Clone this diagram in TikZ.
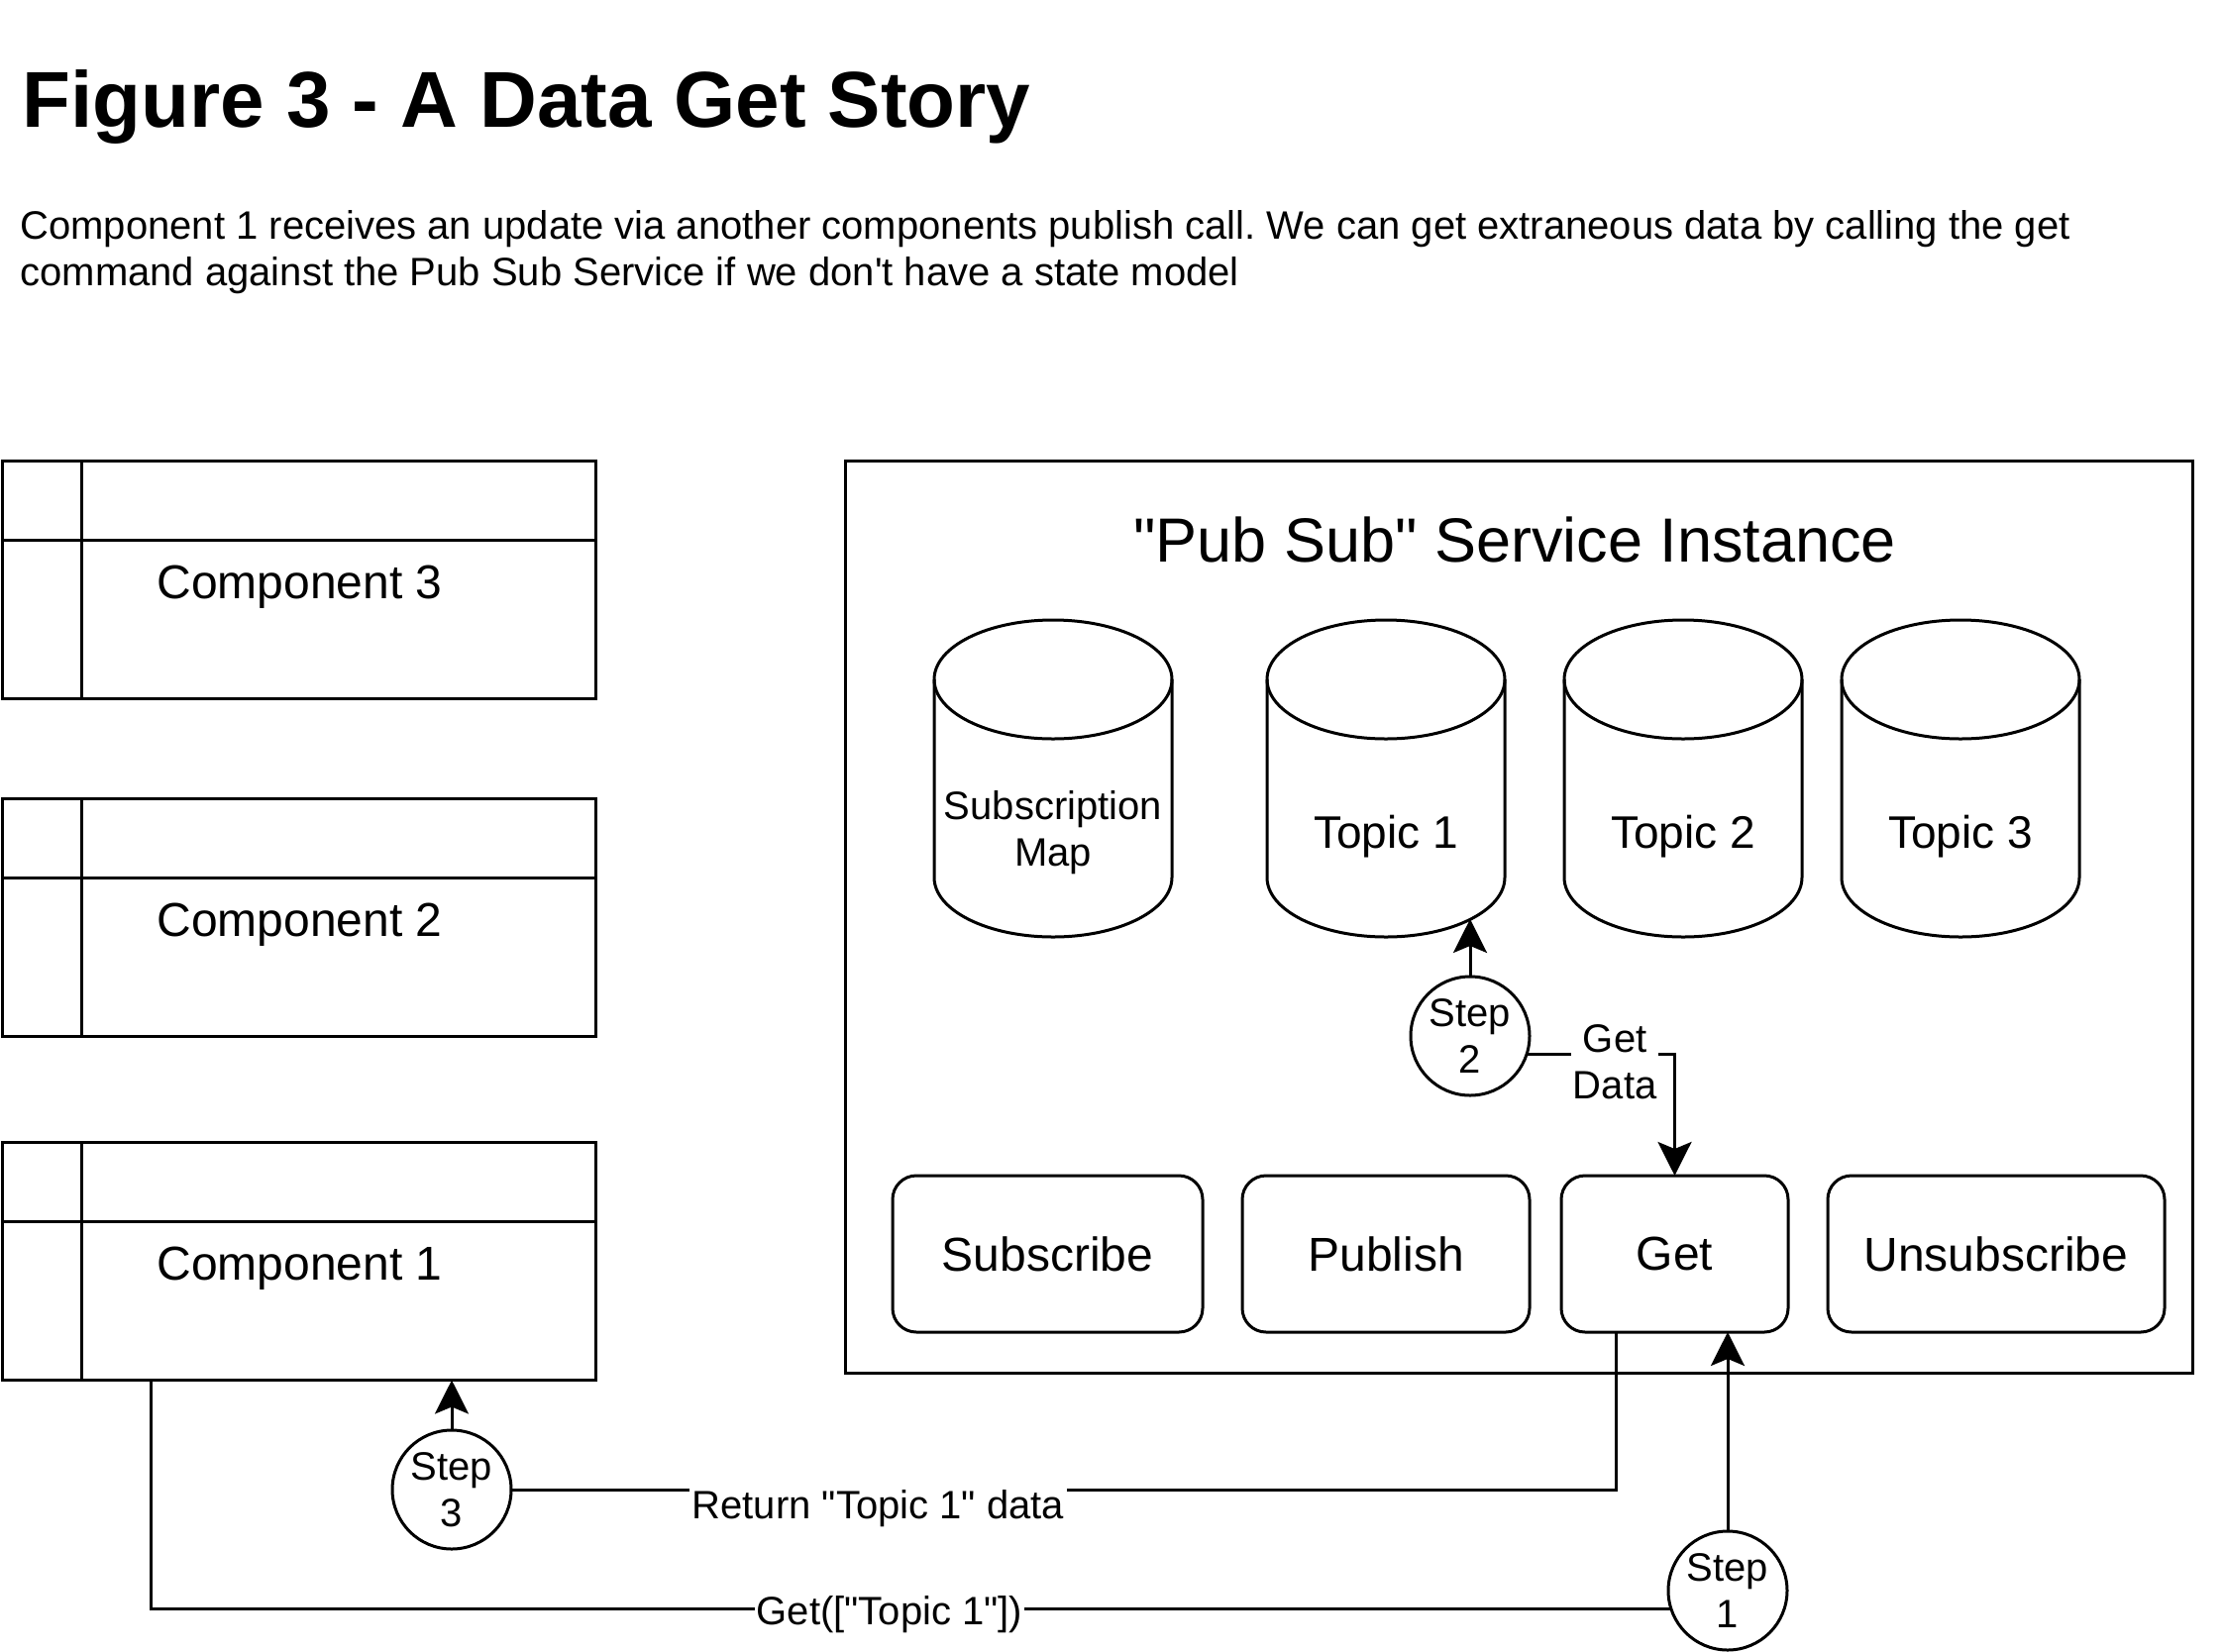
\documentclass[tikz,border=0pt]{standalone}
\usepackage{fontspec}
\setmainfont{Liberation Sans}[Ligatures=TeXOff]
\usetikzlibrary{arrows.meta}
\newcommand{\dbcyl}[1]{%
  \draw (#1-120,686) -- (#1-120,886) arc[start angle=180,end angle=0,x radius=120,y radius=60] -- (#1+120,686);
  \draw (#1,686) ellipse[x radius=120,y radius=60];}

\begin{document}
\frenchspacing
\begin{tikzpicture}[x=1pt,y=-1pt,line width=3pt,>={Stealth[length=34pt,width=34pt,inset=7pt]}]
    \tikzstyle{comp}=[draw, rectangle, minimum width=599pt, minimum height=240pt, inner sep=0pt, outer sep=0pt]
    \tikzstyle{compname}=[anchor=base west, inner sep=0pt, font=\fontsize{48}{56}\selectfont]
    \tikzstyle{service}=[draw, rectangle, minimum width=1360pt, minimum height=921pt, outer sep=0pt]
    \tikzstyle{op}=[draw, rectangle, rounded corners=24pt, minimum height=158pt, inner sep=0pt, outer sep=0pt, font=\fontsize{48}{56}\selectfont]
    \tikzstyle{store}=[inner sep=0pt, align=center]
    \tikzstyle{stepcirc}=[draw, circle, minimum size=120pt, inner sep=0pt, outer sep=0pt, fill=white, align=center, font=\fontsize{40}{47}\selectfont]
    \tikzstyle{lbl}=[fill=white, inner sep=2pt, align=center, font=\fontsize{40}{47}\selectfont]

    \useasboundingbox (0,0) rectangle (2244,1668);

    \node[anchor=base west, inner sep=0pt, font=\fontsize{80}{94}\selectfont\bfseries] (title) at (21,128) {Figure 3 - A Data Get Story};
    \node[anchor=north west, inner sep=0pt, align=left, font=\fontsize{40}{47}\selectfont] (intro) at (19,211)
      {Component 1 receives an update via another components publish call. We can get extraneous data by calling the get\\command against the Pub Sub Service if we don't have a state model};

    % components
    \node[comp] (c3) at (301.5,585) {};
    \node[comp] (c2) at (301.5,926) {};
    \node[comp] (c1) at (301.5,1273.5) {};
    \draw ([yshift=-80pt]c3.north west) -- ([yshift=-80pt]c3.north east);
    \draw ([xshift=80pt]c3.north west) -- ([xshift=80pt]c3.south west);
    \draw ([yshift=-80pt]c2.north west) -- ([yshift=-80pt]c2.north east);
    \draw ([xshift=80pt]c2.north west) -- ([xshift=80pt]c2.south west);
    \draw ([yshift=-80pt]c1.north west) -- ([yshift=-80pt]c1.north east);
    \draw ([xshift=80pt]c1.north west) -- ([xshift=80pt]c1.south west);
    \node[compname] (c3name) at (157,604) {Component 3};
    \node[compname] (c2name) at (157,945) {Component 2};
    \node[compname] (c1name) at (157,1292) {Component 1};

    % service
    \node[service] (svc) at (1533,925.5) {};
    \node[anchor=base, inner sep=0pt, font=\fontsize{63}{74}\selectfont] (svctitle) at (1529,567) {"Pub Sub" Service Instance};

    \dbcyl{1063} \dbcyl{1399} \dbcyl{1699} \dbcyl{1979}
    \node[store, font=\fontsize{40}{47}\selectfont] (submap) at (1063,841) {Subscription\\Map};
    \node[store, font=\fontsize{46}{54}\selectfont] (topic1) at (1399,845) {Topic 1};
    \node[store, font=\fontsize{46}{54}\selectfont] (topic2) at (1699,845) {Topic 2};
    \node[store, font=\fontsize{46}{54}\selectfont] (topic3) at (1979,845) {Topic 3};
    \coordinate (t1hit) at (1484,928);

    \node[op, minimum width=313pt] (sub)   at (1057.5,1266) {Subscribe};
    \node[op, minimum width=290pt] (pub)   at (1399,1266)   {Publish};
    \node[op, minimum width=229pt] (get)   at (1690.5,1266) {Get};
    \node[op, minimum width=340pt] (unsub) at (2015,1266)   {Unsubscribe};

    % steps
    \node[stepcirc] (s1) at (1744,1606) {Step\\1};
    \node[stepcirc] (s2) at (1484,1046) {Step\\2};
    \node[stepcirc] (s3) at (456,1504)  {Step\\3};

    \path[->]
     (s1) edge (s1 |- get.south)
     (s2) edge (t1hit)
     (s3) edge (s3 |- c1.south)
     ;
    \draw[->] (s2.-18) -| node[lbl, pos=0.298, yshift=-8pt] (getdata) {Get\\Data} (get.north);
    \draw ([xshift=-59pt]get.south) |- node[lbl, pos=0.834, yshift=-19pt, inner sep=3pt] (ret) {Return "Topic 1" data} (s3.east);
    \draw (s1.198) -| node[lbl, pos=0.257, yshift=-6pt] (getcall) {Get(["Topic 1"])} ([xshift=-149.5pt]c1.south);
\end{tikzpicture}
\end{document}
